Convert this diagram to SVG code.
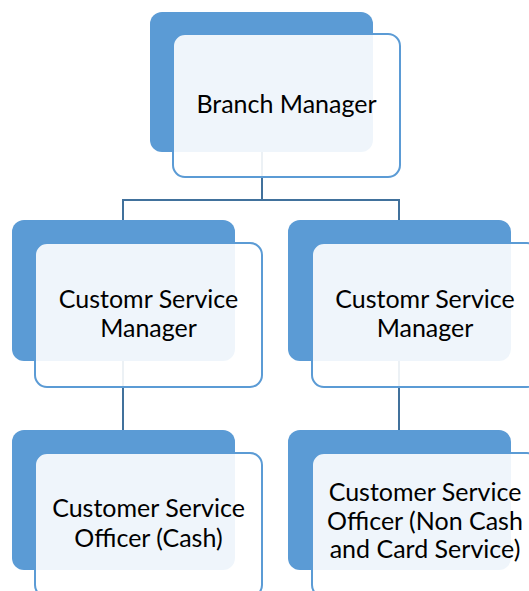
<svg xmlns="http://www.w3.org/2000/svg" width="529" height="591" viewBox="0 0 529 591">
<style>
.back{fill:#5B9BD5}
.front{fill:#ffffff;fill-opacity:0.9;stroke:#5B9BD5;stroke-width:2}
.conn{stroke:#41719C;stroke-width:2;fill:none}
text{font-family:Lato,"Open Sans","Liberation Sans",sans-serif;font-size:25px;fill:#000;text-anchor:middle}
</style>
<rect width="529" height="591" fill="#ffffff"/>
<g id="connectors">
<path class="conn" d="M262,152V200M123,200H399M123,199V220M399,199V220M123,361V430M399,361V430"/>
</g>
<g id="branch-manager">
<rect class="back" x="150" y="12" width="223" height="140" rx="12"/>
<rect class="front" x="173" y="34" width="227" height="143" rx="12"/>
<text x="286.5" y="113">Branch Manager</text>
</g>
<g id="csm-left">
<rect class="back" x="12" y="220" width="223" height="141" rx="12"/>
<rect class="front" x="35" y="243" width="227" height="144" rx="12"/>
<text x="148.5" y="308">Customr Service</text>
<text x="148.5" y="337">Manager</text>
</g>
<g id="csm-right">
<rect class="back" x="288" y="220" width="223" height="141" rx="12"/>
<rect class="front" x="312" y="243" width="227" height="144" rx="12"/>
<text x="425" y="308">Customr Service</text>
<text x="425" y="337">Manager</text>
</g>
<g id="cso-cash">
<rect class="back" x="12" y="430" width="223" height="140" rx="12"/>
<rect class="front" x="35" y="453" width="227" height="144" rx="12"/>
<text x="148.5" y="517">Customer Service</text>
<text x="148.5" y="547">Officer (Cash)</text>
</g>
<g id="cso-noncash">
<rect class="back" x="288" y="430" width="223" height="140" rx="12"/>
<rect class="front" x="312" y="453" width="227" height="144" rx="12"/>
<text x="425" y="501">Customer Service</text>
<text x="425" y="530">Officer (Non Cash</text>
<text x="425" y="558">and Card Service)</text>
</g>
</svg>
